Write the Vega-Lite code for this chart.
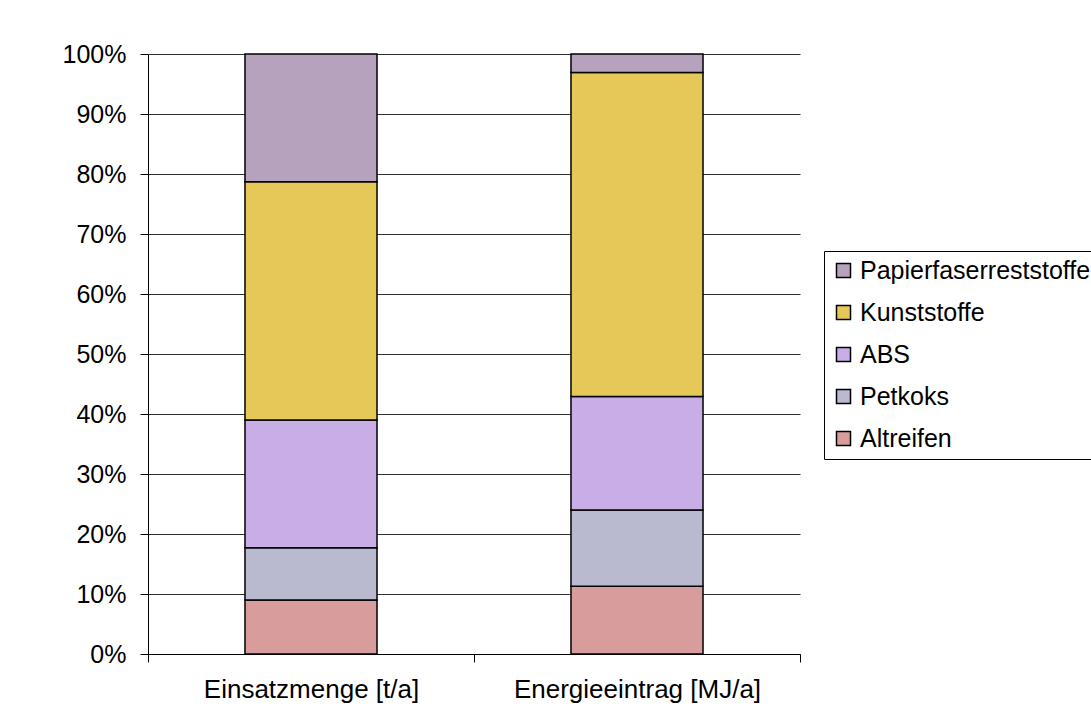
{
  "$schema": "https://vega.github.io/schema/vega-lite/v6.json",
  "width": 652,
  "height": 600,
  "autosize": {"type": "none"},
  "padding": {"left": 148, "top": 54, "right": 291, "bottom": 74},
  "background": "white",
  "data": {
    "values": [
      {"kategorie": "Einsatzmenge [t/a]", "material": "Altreifen", "anteil": 9.0},
      {"kategorie": "Einsatzmenge [t/a]", "material": "Petkoks", "anteil": 8.7},
      {"kategorie": "Einsatzmenge [t/a]", "material": "ABS", "anteil": 21.3},
      {"kategorie": "Einsatzmenge [t/a]", "material": "Kunststoffe", "anteil": 39.7},
      {"kategorie": "Einsatzmenge [t/a]", "material": "Papierfaserreststoffe", "anteil": 21.3},
      {"kategorie": "Energieeintrag [MJ/a]", "material": "Altreifen", "anteil": 11.3},
      {"kategorie": "Energieeintrag [MJ/a]", "material": "Petkoks", "anteil": 12.7},
      {"kategorie": "Energieeintrag [MJ/a]", "material": "ABS", "anteil": 18.9},
      {"kategorie": "Energieeintrag [MJ/a]", "material": "Kunststoffe", "anteil": 54.0},
      {"kategorie": "Energieeintrag [MJ/a]", "material": "Papierfaserreststoffe", "anteil": 3.1}
    ]
  },
  "transform": [
    {"calculate": "indexof(['Altreifen','Petkoks','ABS','Kunststoffe','Papierfaserreststoffe'], datum.material)", "as": "stapel"}
  ],
  "mark": {"type": "bar", "width": {"band": 0.405}, "stroke": "black", "strokeWidth": 1.5},
  "encoding": {
    "x": {
      "field": "kategorie",
      "type": "nominal",
      "sort": ["Einsatzmenge [t/a]", "Energieeintrag [MJ/a]"],
      "scale": {"paddingInner": 0, "paddingOuter": 0},
      "axis": {
        "title": null,
        "labelAngle": 0,
        "tickBand": "extent",
        "labelFont": "Liberation Sans",
        "labelFontSize": 26,
        "labelLimit": 500,
        "labelColor": "black",
        "labelPadding": 14,
        "tickSize": 8,
        "tickColor": "black",
        "domainColor": "black",
        "grid": false
      }
    },
    "y": {
      "field": "anteil",
      "type": "quantitative",
      "stack": "normalize",
      "scale": {"domain": [0, 1]},
      "axis": {
        "title": null,
        "format": ".0%",
        "values": [0, 0.1, 0.2, 0.3, 0.4, 0.5, 0.6, 0.7, 0.8, 0.9, 1.0],
        "labelFont": "Liberation Sans",
        "labelFontSize": 25,
        "labelColor": "black",
        "labelPadding": 14,
        "tickSize": 8,
        "tickColor": "black",
        "domainColor": "black",
        "grid": true,
        "gridColor": "#303030",
        "gridOpacity": 1,
        "gridWidth": 1
      }
    },
    "order": {"field": "stapel", "type": "quantitative", "sort": "ascending"},
    "color": {
      "field": "material",
      "type": "nominal",
      "scale": {
        "domain": ["Altreifen", "Petkoks", "ABS", "Kunststoffe", "Papierfaserreststoffe"],
        "range": ["#d89c9c", "#b9b9d0", "#c8ade6", "#e6c858", "#b7a2bd"]
      },
      "legend": {
        "title": null,
        "orient": "none",
        "legendX": 676,
        "legendY": 197,
        "values": ["Papierfaserreststoffe", "Kunststoffe", "ABS", "Petkoks", "Altreifen"],
        "strokeColor": "black",
        "padding": 7,
        "symbolType": "square",
        "symbolSize": 196,
        "symbolStrokeColor": "black",
        "symbolStrokeWidth": 1.5,
        "symbolOpacity": 1,
        "labelFont": "Liberation Sans",
        "labelFontSize": 25,
        "labelColor": "black",
        "labelLimit": 500,
        "labelOffset": 4,
        "rowPadding": 16
      }
    }
  },
  "config": {
    "view": {"stroke": null}
  }
}
